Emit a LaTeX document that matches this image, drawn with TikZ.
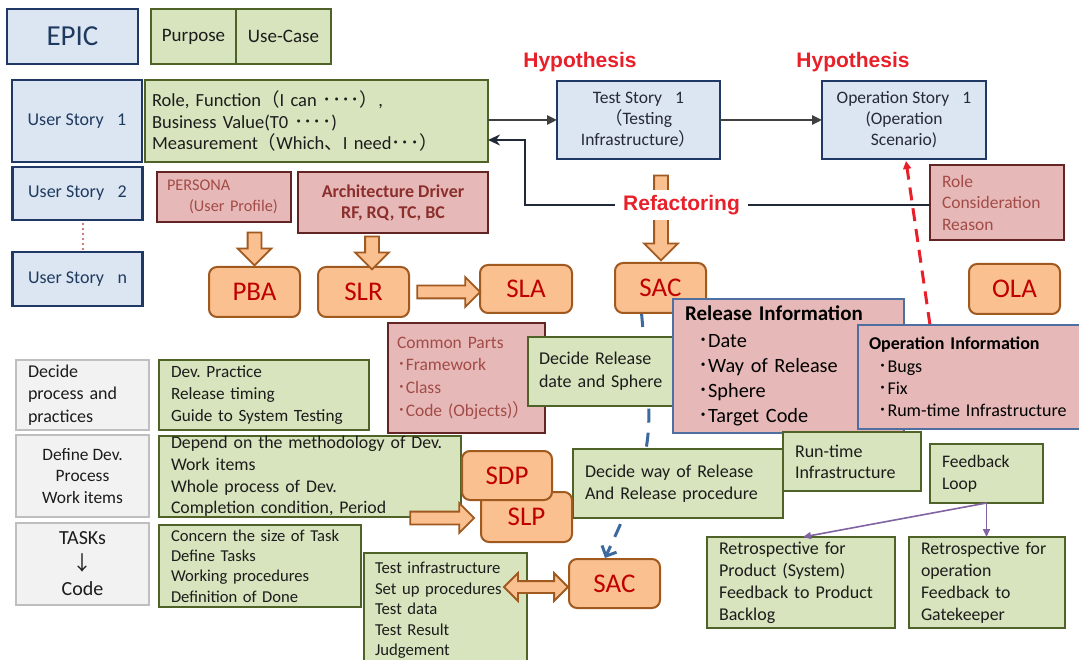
\documentclass[tikz,border=0pt]{standalone}
\usepackage{fontspec}
\setmainfont{Carlito}
\newfontfamily\jpfont{Noto Sans CJK JP}
\newfontfamily\arialfont{Liberation Sans}
\usetikzlibrary{arrows.meta,calc,shapes.arrows,backgrounds}
\frenchspacing

\definecolor{bluefill}{HTML}{DCE6F2}
\definecolor{navy}{HTML}{1F3864}
\definecolor{navytext}{HTML}{1F3A5F}
\definecolor{storytext}{HTML}{262A38}
\definecolor{greenfill}{HTML}{D7E4BD}
\definecolor{olive}{HTML}{4F6228}
\definecolor{darktext}{HTML}{1C1C1C}
\definecolor{pinkfill}{HTML}{E6B9B8}
\definecolor{wine}{HTML}{632523}
\definecolor{pinktext}{HTML}{A24B47}
\definecolor{archtext}{HTML}{8B2F2D}
\definecolor{steel}{HTML}{4F6FA0}
\definecolor{orafill}{HTML}{FAC090}
\definecolor{oraline}{HTML}{A0591F}
\definecolor{oratext}{HTML}{C00000}
\definecolor{grayfill}{HTML}{F2F2F2}
\definecolor{grayline}{HTML}{BFBFBF}
\definecolor{hypred}{HTML}{E8202A}
\definecolor{darkarrow}{HTML}{404040}
\definecolor{refline}{HTML}{1F2937}
\definecolor{bluedash}{HTML}{3D6A9E}
\definecolor{purplearr}{HTML}{8064A2}
\definecolor{dotred}{HTML}{C0504D}

\newcommand\fsz[2]{\fontsize{#1}{#2}\selectfont}
\newcommand\zlp{{\jpfont （}}
\newcommand\zrp{{\jpfont ）}}
\newcommand\zdot{{\jpfont ･}}
\newcommand\zcm{{\jpfont 、}}
\newcommand\zsp{\hspace{0.75em}}
\newcommand\zdown{{\jpfont ↓}}
\newcommand\fatarrow[3][blockarrow]{%
  \coordinate (fa-s) at #2; \coordinate (fa-e) at #3;
  \path let \p1=($(fa-e)-(fa-s)$), \n1={veclen(\x1,\y1)}, \n2={atan2(\y1,\x1)} in
    node[#1, minimum height=\n1, rotate=\n2] at ($(fa-s)!.5!(fa-e)$) {};}

\tikzset{
  box/.style={draw, line width=2.6pt, inner ysep=0pt, outer sep=0pt},
  wh/.style 2 args={minimum width=#1pt, minimum height=#2pt},
  lt/.style 2 args={align=left, text width=#1pt, inner xsep=#2pt},
  story/.style={box, draw=navy, fill=bluefill, text=navytext, align=center},
  greenbox/.style={box, draw=olive, fill=greenfill, text=darktext},
  pinkbox/.style={box, draw=wine, fill=pinkfill, text=pinktext},
  infobox/.style={box, draw=steel, fill=pinkfill, text=black},
  graybox/.style={box, draw=grayline, fill=grayfill, text=darktext},
  orabox/.style={box, line width=2pt, draw=oraline, fill=orafill, text=oratext,
    rounded corners=8pt, font=\fsz{27}{30}},
  hypo/.style={text=hypred, font=\arialfont\bfseries\fsz{21}{24}},
  blockarrow/.style={single arrow, draw=oraline, fill=orafill, line width=1.8pt,
    inner xsep=0pt, inner ysep=6pt, single arrow head extend=10pt, outer sep=0pt},
  smallarrow/.style={blockarrow, inner ysep=5.5pt, single arrow head extend=8.5pt},
  twinarrow/.style={double arrow, draw=oraline, fill=orafill, line width=1.8pt,
    inner xsep=0pt, inner ysep=5pt, double arrow head extend=8pt, outer sep=0pt},
  flow/.style={draw=darkarrow, line width=2.6pt, -{Triangle[length=10pt,width=9pt]}},
  backflow/.style={draw=refline, line width=2.6pt, -{Stealth[length=12pt,width=11pt]}},
  bluedashed/.style={draw=bluedash, line width=3pt, dash pattern=on 14pt off 10pt,
    -{Straight Barb[length=8pt,width=16pt]}},
  reddashed/.style={draw=hypred, line width=3pt, dash pattern=on 13pt off 8pt,
    -{Triangle[length=8pt,width=8pt]}},
  feedarrow/.style={draw=purplearr, line width=1.6pt, -{Triangle[length=8pt,width=7pt]}},
  dotline/.style={draw=dotred, line width=2.2pt, line cap=round, dash pattern=on 0pt off 5pt}
}

\begin{document}
\begin{tikzpicture}[x=1pt, y=-1pt]
  \useasboundingbox (0,0) rectangle (1079,660);

  \node[story, wh={131}{55}, font=\fsz{29}{32}] (epic) at (72.5,36.5) {EPIC};
  \node[greenbox, wh={85}{55}, font=\fsz{19}{22}] (purpose) at (193.5,36.5) {Purpose};
  \node[greenbox, wh={95}{55}, font=\fsz{19}{22}] (usecase) at (283.5,36.5) {Use-Case};

  \node[story, wh={130}{82}, font=\fsz{18}{21}] (us1) at (77,121) {User Story\zsp 1};
  \node[story, wh={130}{53}, font=\fsz{18}{21}] (us2) at (77.5,193.5) {User Story\zsp 2};
  \node[story, wh={130}{54}, font=\fsz{18}{21}] (usn) at (77.5,279) {User Story\zsp n};

  \node[greenbox, wh={343}{82}, lt={329}{7}, font=\fsz{18.5}{21.5}] (role) at (316.5,121)
    {Role, Function\zlp I can \zdot\zdot\zdot\zdot\zrp,\\Business Value(T0 \zdot\zdot\zdot\zdot)\\Measurement\zlp Which\zcm I need\zdot\zdot\zdot\zrp};

  \node[story, wh={163}{78}, text=storytext, font=\fsz{17.5}{21}] (tst) at (638.5,120)
    {Test Story\zsp 1\\\zlp Testing\\Infrastructure\zrp};
  \node[story, wh={164}{78}, text=storytext, font=\fsz{17.5}{21}] (ops) at (904,120)
    {Operation Story\zsp 1\\(Operation\\Scenario)};
  \node[hypo] (hyp1) at (580,62) {Hypothesis};
  \node[hypo] (hyp2) at (853,62) {Hypothesis};

  \node[pinkbox, wh={134}{75}, lt={110}{12}, font=\fsz{17.5}{21.5}] (rcr) at (997,202.5)
    {Role\\Consideration\\Reason};
  \node[pinkbox, wh={134}{50}, lt={114}{10}, font=\fsz{16.3}{20.5}] (persona) at (224,197)
    {PERSONA\\\hspace*{22pt}(User Profile)};
  \node[pinkbox, wh={190}{61}, align=center, text=archtext, font=\bfseries\fsz{18}{21}] (archd) at (393,202.5)
    {Architecture Driver\\RF, RQ, TC, BC};

  \node[orabox, wh={91}{50}] (pba) at (254.5,292) {PBA};
  \node[orabox, wh={91}{50}] (slr) at (363.5,292) {SLR};
  \node[orabox, wh={92}{48}] (sla) at (526,289) {SLA};
  \node[orabox, wh={91}{50}] (sac1) at (660.5,288) {SAC};
  \node[orabox, wh={91}{50}] (ola) at (1014.5,289) {OLA};

  \node[pinkbox, wh={157}{110}, lt={139}{9}, font=\fsz{17.5}{22.7}] (common) at (466.5,378)
    {Common Parts\\\zdot Framework\\\zdot Class\\\zdot Code (Objects)\zrp};
  \node[greenbox, wh={145}{69}, lt={129}{8}, font=\fsz{18}{23}] (decrel) at (600.5,371.5)
    {\hspace*{3pt}Decide Release\\\hspace*{3pt}date and Sphere};
  \node[infobox, wh={231}{134}, lt={207}{12}, font=\fsz{20.3}{25}] (relinfo) at (788.5,366)
    {{\bfseries\fsz{21}{25}Release Information}\\[2pt]\hspace*{13pt}\zdot Date\\\hspace*{13pt}\zdot Way of Release\\\hspace*{13pt}\zdot Sphere\\\hspace*{13pt}\zdot Target Code};
  \node[infobox, wh={232}{104}, lt={210}{11}, font=\fsz{18}{22.3}] (opinfo) at (974,377)
    {{\bfseries Operation Information}\\\hspace*{9.5pt}\zdot Bugs\\\hspace*{9.5pt}\zdot Fix\\\hspace*{9.5pt}\zdot Rum-time Infrastructure};

  \node[greenbox, wh={210}{69}, lt={186}{12}, font=\fsz{18}{22}] (decway) at (678,483.5)
    {Decide way of Release\\And Release procedure};
  \node[greenbox, wh={138}{59}, lt={114}{12}, font=\fsz{18}{21}] (rt) at (852,461.5)
    {Run-time\\Infrastructure};
  \node[greenbox, wh={113}{59}, lt={89}{12}, font=\fsz{17.6}{22}] (fb) at (986.5,473.5)
    {Feedback\\Loop};
  \node[greenbox, wh={188}{91}, lt={164}{12}, font=\fsz{18}{22}] (retro1) at (801,582.5)
    {Retrospective for\\Product (System)\\Feedback to Product\\Backlog};
  \node[greenbox, wh={156}{91}, lt={132}{12}, font=\fsz{17.8}{22}] (retro2) at (987,582.5)
    {Retrospective for\\operation\\Feedback to\\Gatekeeper};

  \node[graybox, wh={133}{70}, lt={109}{12}, font=\fsz{18}{22.5}] (g1) at (82.5,395)
    {Decide\\process and\\practices};
  \node[graybox, wh={133}{82}, align=center, font=\fsz{17.4}{21.5}] (g2) at (82.5,476)
    {Define Dev.\\Process\\Work items};
  \node[graybox, wh={133}{82}, align=center, font=\fsz{20}{25.5}] (g3) at (82.5,564)
    {TASKs\\\zdown\\Code};
  \node[greenbox, wh={210}{70}, lt={186}{12}, font=\fsz{17.2}{22.3}] (dp) at (264,395)
    {Dev. Practice\\Release timing\\Guide to System Testing};
  \node[greenbox, wh={302}{81}, lt={278}{12}, font=\fsz{17.8}{21.7}] (dep) at (310,476.5)
    {Depend on the methodology of Dev.\\Work items\\Whole process of Dev.\\Completion condition, Period};
  \node[greenbox, wh={202}{82}, lt={178}{12}, font=\fsz{16.6}{20.3}] (con) at (260,566)
    {Concern the size of Task\\Define Tasks\\Working procedures\\Definition of Done};
  \node[orabox, wh={91}{50}] (slp) at (526.5,517) {SLP};
  \node[orabox, wh={90}{49}] (sdp) at (507,475.5) {SDP};
  \node[greenbox, wh={163}{115}, lt={141}{11}, font=\fsz{16.7}{20.5}] (tinf) at (445.5,610.5)
    {Test infrastructure\\Set up procedures\\Test data\\Test Result\\Judgement};
  \node[orabox, wh={91}{49}] (sac2) at (614.5,583.5) {SAC};

  \begin{scope}[on background layer]
    \draw[bluedashed] ($(sac1.south)+(-19,0)$) to[out=-85, in=65, looseness=1.3] ($(sac2.north)+(-9.5,-1)$);
    \draw[reddashed] ($(opinfo.north west)+(72,0)$) -- ($(ops.south)+(2,2)$);
  \end{scope}

  \draw[dotline] ($(us2.south)+(5.5,4)$) -- ($(usn.north)+(5.5,-3)$);
  \draw[flow] (role.east |- tst.west) -- (tst.west);
  \draw[flow] (tst.east) -- (ops.west);

  \fatarrow{($(tst.south)+(22.5,13)$)}{($(sac1.north)+(0.5,-6)$)}
  \fatarrow{($(persona.south)+(30.5,7)$)}{($(pba.north)+(0,-5)$)}
  \fatarrow{($(archd.south)+(-21,0)$)}{($(slr.north)+(8.5,-1)$)}
  \fatarrow[smallarrow]{($(slr.east)+(5,0)$)}{($(sla.west |- slr.east)+(-3,0)$)}
  \fatarrow[smallarrow]{($(dep.south east)+(-54,1)$)}{($(slp.west)+(-10,1)$)}
  \fatarrow[twinarrow]{($(tinf.east |- sac2.west)+(-23,3.5)$)}{($(sac2.west)+(-1,3.5)$)}

  \coordinate (rfk) at (525,205);
  \draw[backflow] (rcr.west |- rfk) -- (rfk) |- ($(role.south east)+(0,-22)$);
  \node[hypo, fill=white, inner xsep=8pt, inner ysep=5pt] (refac) at (681.5,205) {Refactoring};

  \draw[feedarrow] (fb.south) -- ($(retro1.north)+(2,0)$);
  \draw[feedarrow] (fb.south) -- (fb.south |- retro2.north);
\end{tikzpicture}
\end{document}
